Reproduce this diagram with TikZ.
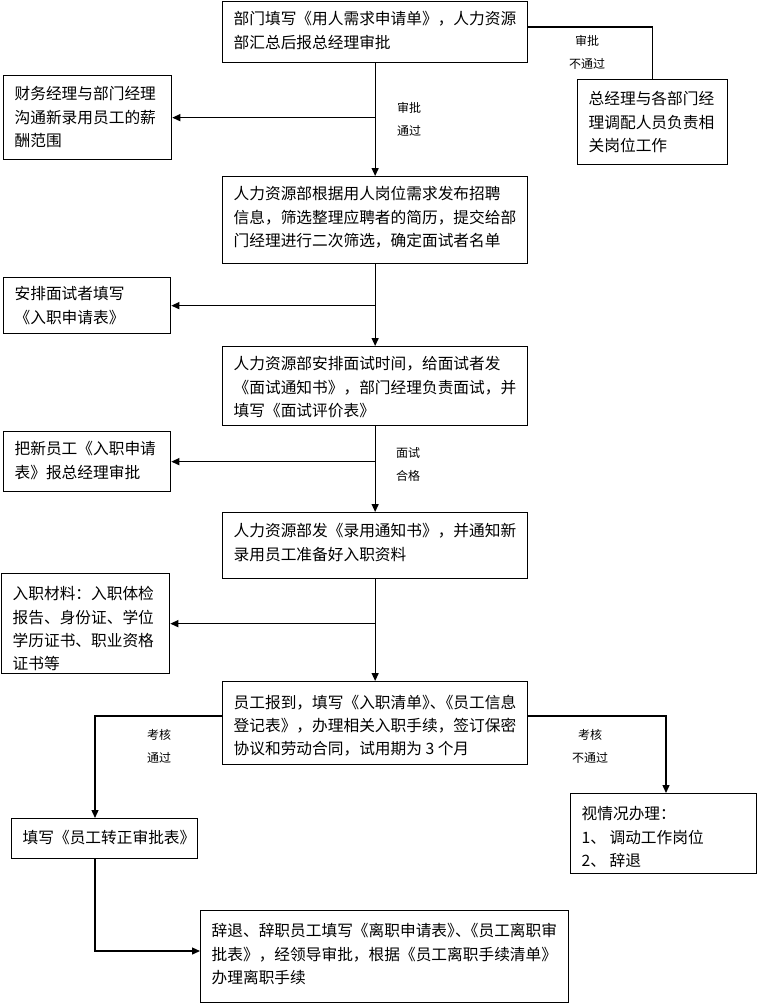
\documentclass[tikz,border=0pt]{standalone}
\usepackage{fontspec}
\newfontfamily\cjk{Noto Sans CJK SC}
\usetikzlibrary{arrows.meta}
\newcommand\bt[4]{\parbox[c][#2][t]{#1}{\vspace*{#3}#4}}
\newcommand\sq{》\kern-0.5em、\kern-0.5em《}
\begin{document}
\begin{tikzpicture}[x=1pt,y=-1pt,
  bx/.style={draw, line width=1.3pt, anchor=north west, inner xsep=11pt, inner ysep=0pt,
    font=\cjk\fontsize{15.7}{23.2}\selectfont},
  lbl/.style={font=\cjk\fontsize{12}{23}\selectfont, align=center, inner sep=0pt},
  ln/.style={line width=1.3pt},
  arr/.style={line width=1.3pt, -{Triangle[length=8pt,width=7pt]}}]
\useasboundingbox (0,0) rectangle (758,1004);

\node[bx] (b1) at (222,1) {\bt{283pt}{61pt}{10pt}{部门填写《用人需求申请单》，人力资源\\部汇总后报总经理审批}};
\node[bx] (r1) at (577,79) {\bt{128pt}{85pt}{12pt}{总经理与各部门经\\理调配人员负责相\\关岗位工作}};
\node[bx] (l1) at (3,75) {\bt{146pt}{84pt}{11pt}{财务经理与部门经理\\沟通新录用员工的薪\\酬范围}};
\node[bx] (b2) at (222,176) {\bt{283pt}{87pt}{10pt}{人力资源部根据用人岗位需求发布招聘\\信息，筛选整理应聘者的简历，提交给部\\门经理进行二次筛选，确定面试者名单}};
\node[bx] (l2) at (3,277) {\bt{145pt}{56pt}{9pt}{安排面试者填写\\《入职申请表》}};
\node[bx] (b3) at (222,346) {\bt{283pt}{79pt}{10pt}{人力资源部安排面试时间，给面试者发\\《面试通知书》，部门经理负责面试，并\\填写《面试评价表》}};
\node[bx] (l3) at (3,431) {\bt{145pt}{60pt}{10pt}{把新员工《入职申请\\表》报总经理审批}};
\node[bx] (b4) at (222,512) {\bt{283pt}{66pt}{11pt}{人力资源部发《录用通知书》，并通知新\\录用员工准备好入职资料}};
\node[bx] (l4) at (1,573) {\bt{146pt}{100pt}{13pt}{入职材料：入职体检\\报告、身份证、学位\\学历证书、职业资格\\证书等}};
\node[bx] (b5) at (222,681) {\bt{283pt}{83pt}{13pt}{员工报到，填写《入职清单\sq 员工信息\\登记表》，办理相关入职手续，签订保密\\协议和劳动合同，试用期为 3 个月}};
\node[bx] (b7) at (570,793) {\bt{164pt}{80pt}{13pt}{视情况办理：\\1、 调动工作岗位\\2、 辞退}};
\node[bx] (b6) at (11,818) {\bt{164pt}{40pt}{12pt}{填写《员工转正审批表》}};
\node[bx] (b8) at (200,910) {\bt{346pt}{92pt}{13pt}{辞退、辞职员工填写《离职申请表\sq 员工离职审\\批表》，经领导审批，根据《员工离职手续清单》\\办理离职手续}};

\node[lbl] (t1) at (587,52) {审批\\不通过};
\node[lbl] (t2) at (409,119) {审批\\通过};
\node[lbl] (t3) at (408,464) {面试\\合格};
\node[lbl] (t4) at (159,746) {考核\\通过};
\node[lbl] (t5) at (590,746) {考核\\不通过};

\draw[arr] (b1.south) -- (b2.north);
\draw[arr] (b1.south |- l1.east) -- (l1.east);
\draw[ln] (b1.east |- 0,27) -| (r1.north);
\draw[arr] (b2.south) -- (b3.north);
\draw[arr] (b2.south |- l2.east) -- (l2.east);
\draw[arr] (b3.south) -- (b4.north);
\draw[arr] (b3.south |- l3.east) -- (l3.east);
\draw[arr] (b4.south) -- (b5.north);
\draw[arr] (b4.south |- l4.east) -- (l4.east);
\draw[arr] (b5.west |- 0,716) -| (b6.north -| 95,0);
\draw[arr] (b5.east |- 0,716) -| (b7.north -| 666,0);
\draw[arr] (b6.south -| 95,0) |- (b8.west |- 0,951);
\end{tikzpicture}
\end{document}
